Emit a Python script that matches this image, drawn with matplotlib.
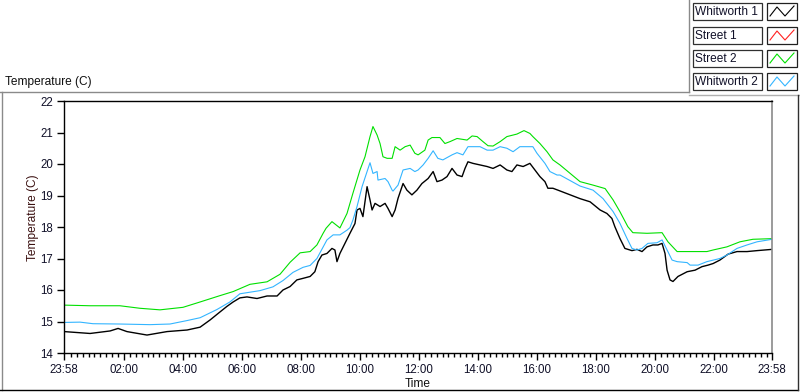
import matplotlib
matplotlib.use("Agg")
import matplotlib.pyplot as plt
from matplotlib.lines import Line2D
from matplotlib.patches import Rectangle

plt.rcParams['font.family'] = ['Liberation Sans', 'DejaVu Sans']

# ---- data (time in hours of day; start/end at 23:58) ----
t_w1 = [-0.03, 0.85, 1.53, 1.80, 2.10, 2.78, 3.46, 4.14, 4.58, 4.92, 5.25, 5.49, 5.70, 5.93,
        6.17, 6.51, 6.85, 7.19, 7.39, 7.63, 7.86, 8.07, 8.31, 8.47, 8.58, 8.71, 8.88, 9.05,
        9.15, 9.22, 9.32, 9.49, 9.66, 9.83, 9.90, 10.00, 10.10, 10.24, 10.34, 10.41, 10.51,
        10.68, 10.85, 10.95, 11.09, 11.19, 11.29, 11.46, 11.59, 11.76, 11.93, 12.10, 12.31,
        12.48, 12.61, 12.78, 12.95, 13.12, 13.29, 13.46, 13.56, 13.66, 13.83, 14.07, 14.31,
        14.51, 14.75, 14.98, 15.15, 15.32, 15.53, 15.76, 15.93, 16.10, 16.27, 16.37, 16.54,
        16.71, 17.46, 17.80, 18.14, 18.37, 18.54, 18.64, 18.81, 18.98, 19.22, 19.39, 19.56,
        19.73, 19.93, 20.10, 20.24, 20.34, 20.41, 20.51, 20.61, 20.78, 21.09, 21.36, 21.59,
        21.80, 21.97, 22.20, 22.48, 22.78, 23.12, 23.46, 23.97]
v_w1 = [14.68, 14.62, 14.70, 14.78, 14.68, 14.57, 14.68, 14.73, 14.82, 15.05, 15.30, 15.48,
        15.62, 15.75, 15.78, 15.73, 15.81, 15.81, 16.00, 16.11, 16.32, 16.37, 16.43, 16.58,
        16.90, 17.11, 17.16, 17.32, 17.27, 16.90, 17.16, 17.48, 17.80, 18.11, 18.54, 18.59,
        18.33, 19.28, 18.86, 18.54, 18.75, 18.65, 18.75, 18.59, 18.33, 18.54, 18.91, 19.38,
        19.17, 19.02, 19.17, 19.38, 19.54, 19.76, 19.44, 19.49, 19.60, 19.86, 19.65, 19.60,
        19.86, 20.07, 20.02, 19.97, 19.92, 19.86, 19.97, 19.81, 19.76, 19.97, 19.92, 20.02,
        19.81, 19.60, 19.44, 19.23, 19.23, 19.17, 18.90, 18.80, 18.54, 18.43, 18.27, 18.01,
        17.64, 17.32, 17.25, 17.29, 17.22, 17.37, 17.43, 17.43, 17.48, 17.16, 16.63, 16.32,
        16.27, 16.43, 16.58, 16.63, 16.74, 16.79, 16.84, 16.95, 17.14, 17.22, 17.22, 17.25,
        17.29]

t_s1 = []
v_s1 = []

t_s2 = [-0.03, 0.85, 1.86, 2.54, 3.22, 4.00, 4.58, 5.25, 5.70, 6.27, 6.85, 7.29, 7.63, 7.97,
        8.31, 8.54, 8.75, 8.85, 9.05, 9.32, 9.56, 9.76, 10.00, 10.17, 10.34, 10.44, 10.58,
        10.68, 10.78, 10.92, 11.09, 11.19, 11.36, 11.53, 11.70, 11.86, 11.97, 12.20, 12.31,
        12.44, 12.71, 12.88, 13.05, 13.29, 13.63, 13.80, 13.97, 14.17, 14.34, 14.51, 14.75,
        14.98, 15.32, 15.56, 15.76, 15.86, 16.10, 16.34, 16.54, 16.78, 17.46, 17.90, 18.31,
        18.58, 18.81, 19.08, 19.25, 19.73, 20.24, 20.44, 20.75, 21.19, 21.76, 21.97, 22.44,
        22.88, 23.32, 23.97]
v_s2 = [15.52, 15.50, 15.50, 15.42, 15.37, 15.45, 15.62, 15.82, 15.95, 16.18, 16.26, 16.50,
        16.88, 17.18, 17.22, 17.43, 17.80, 17.96, 18.17, 17.97, 18.43, 19.07, 19.81, 20.23,
        20.87, 21.19, 20.92, 20.65, 20.23, 20.18, 20.18, 20.55, 20.44, 20.55, 20.60, 20.34,
        20.29, 20.44, 20.76, 20.84, 20.84, 20.65, 20.71, 20.81, 20.76, 20.89, 20.87, 20.71,
        20.58, 20.57, 20.71, 20.87, 20.95, 21.06, 20.97, 20.87, 20.65, 20.39, 20.13, 19.97,
        19.44, 19.33, 19.22, 18.86, 18.49, 18.01, 17.82, 17.80, 17.82, 17.53, 17.22, 17.22,
        17.22, 17.27, 17.37, 17.53, 17.61, 17.63]

t_w2 = [-0.03, 0.51, 0.95, 1.86, 2.88, 3.56, 4.14, 4.58, 5.15, 5.59, 5.93, 6.61, 7.05, 7.39,
        7.73, 8.07, 8.31, 8.54, 8.88, 9.09, 9.32, 9.56, 9.66, 9.76, 9.90, 10.07, 10.24, 10.34,
        10.44, 10.58, 10.61, 10.85, 10.95, 11.09, 11.12, 11.29, 11.46, 11.70, 11.86, 11.97,
        12.14, 12.31, 12.48, 12.64, 12.81, 13.12, 13.29, 13.49, 13.66, 14.07, 14.31, 14.51,
        14.75, 14.98, 15.19, 15.42, 15.86, 16.00, 16.27, 16.44, 16.68, 16.78, 17.46, 17.90,
        18.24, 18.58, 18.81, 19.05, 19.22, 19.39, 19.56, 19.76, 20.07, 20.24, 20.41, 20.58,
        20.75, 21.09, 21.19, 21.46, 21.76, 22.20, 22.44, 22.78, 23.12, 23.46, 23.97]
v_w2 = [14.97, 14.98, 14.93, 14.92, 14.90, 14.92, 15.03, 15.12, 15.38, 15.62, 15.88, 15.98,
        16.10, 16.30, 16.56, 16.72, 16.78, 17.00, 17.59, 17.75, 17.75, 17.90, 17.98, 18.22,
        18.65, 19.28, 19.76, 20.04, 19.70, 19.76, 19.49, 19.54, 19.44, 19.17, 19.14, 19.33,
        19.81, 19.86, 19.76, 19.81, 19.97, 20.18, 20.42, 20.18, 20.13, 20.29, 20.36, 20.29,
        20.55, 20.55, 20.44, 20.44, 20.55, 20.50, 20.39, 20.55, 20.55, 20.34, 20.02, 19.76,
        19.65, 19.65, 19.30, 19.17, 18.90, 18.49, 18.12, 17.64, 17.32, 17.27, 17.32, 17.48,
        17.50, 17.59, 17.27, 16.95, 16.90, 16.87, 16.79, 16.79, 16.90, 17.00, 17.11, 17.32,
        17.43, 17.53, 17.61]

names = ['Whitworth 1', 'Street 1', 'Street 2', 'Whitworth 2']
colors = ['#000000', '#ff2020', '#00e000', '#33b5ff']
x_ticks = [-2/60, 2, 4, 6, 8, 10, 12, 14, 16, 18, 20, 22, 24 - 2/60]
x_labels = ['23:58', '02:00', '04:00', '06:00', '08:00', '10:00', '12:00',
            '14:00', '16:00', '18:00', '20:00', '22:00', '23:58']
y_ticks = [14, 15, 16, 17, 18, 19, 20, 21, 22]

W, H = 800, 392
fig = plt.figure(figsize=(W / 100, H / 100), dpi=100)
fig.patch.set_facecolor('white')

def fx(px):
    return px / W

def fy(py):
    return 1 - py / H

ax = fig.add_axes([fx(64), fy(353), fx(772) - fx(64), fy(101) - fy(353)])
series = [(t_w1, v_w1), (t_s1, v_s1), (t_s2, v_s2), (t_w2, v_w2)]
lws = [1.0, 0.8, 0.8, 0.8]
for (t, v), c, lw, n in zip(series, colors, lws, names):
    ax.plot(t, v, color=c, lw=lw, label=n)

ax.set_xlim(-2/60, 24 - 2/60)
ax.set_ylim(14, 22)
ax.set_xticks(x_ticks)
ax.set_xticklabels(x_labels)
minor = [round(0.2 * i, 2) for i in range(1, 120) if (i % 10) != 0]
ax.set_xticks(minor, minor=True)
ax.set_yticks(y_ticks)
ax.set_yticklabels([str(v) for v in y_ticks])
tick_col = '#101028'
ax.tick_params(axis='both', which='major', direction='out', length=5, width=1,
               labelsize=8.3, colors='black', labelcolor=tick_col, pad=3)
ax.tick_params(axis='x', which='minor', direction='out', length=3, width=1, colors='black')
for s in ['left', 'bottom', 'top']:
    ax.spines[s].set_color('black')
    ax.spines[s].set_linewidth(1.0)
ax.spines['right'].set_color('#8a8a8a')
ax.spines['right'].set_linewidth(1.2)

fig.text(fx(418), fy(384), 'Time', ha='center', va='center', fontsize=8.6, color='#101010')
fig.text(fx(33), fy(218), 'Temperature (C)', ha='center', va='center', rotation=90,
         fontsize=8.6, color='#3a1010')
fig.text(fx(5), fy(82), 'Temperature (C)', ha='left', va='center', fontsize=8.6, color='#101010')

# frame lines
def fline(x0, y0, x1, y1, color, lw=1.0):
    fig.add_artist(Line2D([fx(x0), fx(x1)], [fy(y0), fy(y1)], color=color, lw=lw,
                          transform=fig.transFigure))

fline(0, 92, 689, 92, '#8a8a8a')
fline(689, 0, 689, 92, '#8a8a8a')
fline(689, 95, 800, 95, '#b0b0b0')
fline(1.5, 92, 1.5, 390, '#8a8a8a')
fline(0, 390, 798, 390, '#000000')
fline(797.5, 95, 797.5, 390, '#303030')

# legend boxes
row_tops = [3, 27, 50, 73]
for top, n, c in zip(row_tops, names, colors):
    fig.add_artist(Rectangle((fx(693), fy(top + 17)), fx(762) - fx(693), fy(top) - fy(top + 17),
                             transform=fig.transFigure, facecolor='white',
                             edgecolor='#303030', lw=0.9))
    fig.text(fx(695), fy(top + 8.8), n, ha='left', va='center', fontsize=8.6, color='#101028')
    fig.add_artist(Rectangle((fx(767), fy(top + 17)), fx(797) - fx(767), fy(top) - fy(top + 17),
                             transform=fig.transFigure, facecolor='white',
                             edgecolor='#202020', lw=0.9))
    zx = [770, 777, 785, 794]
    zy = [top + 13, top + 4, top + 13, top + 3]
    fig.add_artist(Line2D([fx(v) for v in zx], [fy(v) for v in zy], color=c, lw=0.8,
                          transform=fig.transFigure))

fig.savefig('out.png', dpi=100, facecolor='white')
